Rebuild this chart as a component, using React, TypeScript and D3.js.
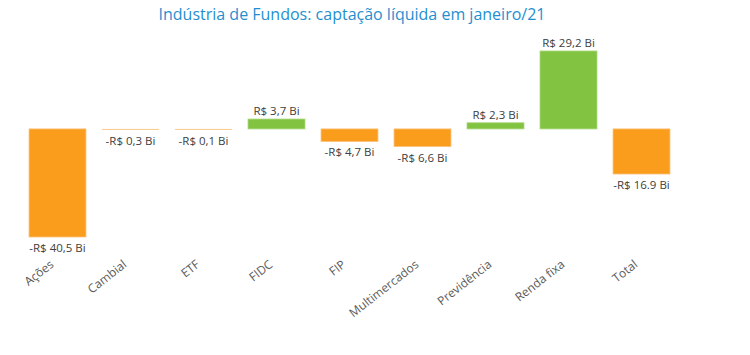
import React from "react";
import * as d3 from "d3";

const categories = ["Ações", "Cambial", "ETF", "FIDC", "FIP", "Multimercados", "Previdência", "Renda fixa", "Total"];
const values = [-40.5, -0.3, -0.1, 3.7, -4.7, -6.6, 2.3, 29.2, -16.9];
const valueLabels = ["-R$ 40,5 Bi", "-R$ 0,3 Bi", "-R$ 0,1 Bi", "R$ 3,7 Bi", "-R$ 4,7 Bi", "-R$ 6,6 Bi", "R$ 2,3 Bi", "R$ 29,2 Bi", "-R$ 16.9 Bi"];
const title = "Indústria de Fundos: captação líquida em janeiro/21";

const W = 750, H = 355;
const FONT = "'Open Sans', 'Noto Sans', sans-serif";

export default function App() {
  const x = d3.scaleBand<string>().domain(categories).range([21, 678]).paddingInner(0.22).paddingOuter(0.11);
  const y = d3.scaleLinear().domain([-40.5, 29.2]).range([237, 51]);
  return (
    <svg width={W} height={H} style={{ position: "fixed", left: 0, top: 0, background: "#fff" }} fontFamily={FONT}>
      <text x={352} y={20} textAnchor="middle" fontSize={16} fill="#1F8FD0">{title}</text>
      {categories.map((c, i) => {
        const v = values[i];
        const top = y(Math.max(0, v));
        const bot = y(Math.min(0, v));
        const h = Math.max(bot - top, 1);
        const pos = v >= 0;
        const tiny = Math.abs(v) < 0.5;
        const fill = pos ? "#82C341" : "#FA9D1C";
        const cx = (x(c) as number) + x.bandwidth() / 2;
        return (
          <g key={c}>
            <rect x={x(c)} y={top} width={x.bandwidth()} height={h} fill={tiny ? "#FBC98A" : fill} stroke={pos ? "#A7D67A" : "#FCC07A"} strokeWidth={tiny ? 0 : 0.8} />
            <text x={cx} y={pos ? top - 4 : top + h + 15} textAnchor="middle" fontSize={11.5} fill="#404040">{valueLabels[i]}</text>
            <text transform={`translate(${cx - 3},${266}) rotate(-38)`} textAnchor="end" fontSize={12} fill="#595959">{c}</text>
          </g>
        );
      })}
    </svg>
  );
}
